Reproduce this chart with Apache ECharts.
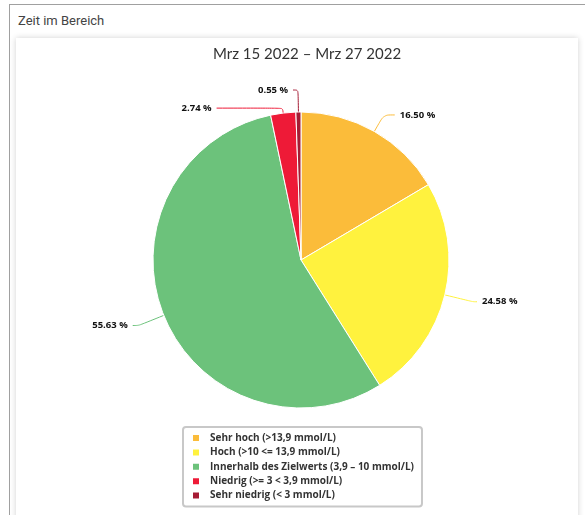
<!DOCTYPE html>
<html>
<head>
<meta charset="utf-8">
<script src="https://cdn.jsdelivr.net/npm/echarts@6/dist/echarts.min.js"></script>
<style>
  html, body { margin:0; padding:0; width:585px; height:515px; overflow:hidden; background:#fff; }
  #outer { position:absolute; left:9px; top:4px; width:600px; height:600px; border-left:1px solid #a0a0a0; border-top:1px solid #a0a0a0; background:#fff; }
  #hdr { position:absolute; left:18px; top:13px; font-family:Roboto, sans-serif; font-size:13px; color:#444; }
  #card { position:absolute; left:16px; top:38px; width:562px; height:600px; background:#fff; box-shadow:0 0 6px rgba(0,0,0,0.18); }
  #chart { position:absolute; left:0; top:0; width:585px; height:515px; }
</style>
</head>
<body>
<div id="outer"></div>
<div id="hdr">Zeit im Bereich</div>
<div id="card"></div>
<div id="chart"></div>
<script>
const titleText = 'Mrz 15 2022 – Mrz 27 2022';
const categories = ['Sehr hoch (>13,9 mmol/L)', 'Hoch (>10 <= 13,9 mmol/L)', 'Innerhalb des Zielwerts (3,9 – 10 mmol/L)', 'Niedrig (>= 3 < 3,9 mmol/L)', 'Sehr niedrig (< 3 mmol/L)'];
const values = [16.50, 24.58, 55.63, 2.74, 0.55];
const colors = ['#FBBC3A', '#FFF23E', '#6CC27B', '#EE1A37', '#A61C34'];
// label line lengths per slice [length, length2]
const lineLens = [[19, 11], [29, 4], [27, 6], [5, 66], [22, 5]];

const chart = echarts.init(document.getElementById('chart'), null, {renderer:'canvas'});
chart.setOption({
  backgroundColor: 'transparent',
  animation: false,
  title: {
    text: titleText, left: 302, top: 42, textAlign: 'center',
    textStyle: { fontFamily: 'Lato, sans-serif', fontWeight: 'normal', fontSize: 15, color: '#333' }
  },
  legend: {
    orient: 'vertical', left: 183, top: 427,
    data: categories,
    icon: 'rect', itemWidth: 8, itemHeight: 8, itemGap: 4.4,
    padding: [6, 8, 6, 8],
    borderColor: '#c8c8c8', borderWidth: 2, borderRadius: 3,
    textStyle: { fontFamily: '"Open Sans", sans-serif', fontWeight: 'bold', fontSize: 10, color: '#333', padding: [0, 0, 0, 5] }
  },
  series: [{
    type: 'pie',
    center: [301, 260], radius: 148,
    startAngle: 90, clockwise: true,
    avoidLabelOverlap: false,
    data: categories.map((c, i) => ({
      name: c, value: values[i], itemStyle: { color: colors[i] },
      labelLine: { length: lineLens[i][0], length2: lineLens[i][1] }
    })),
    itemStyle: { borderColor: '#fff', borderWidth: 1 },
    label: {
      show: true, position: 'outside',
      formatter: p => p.value.toFixed(2) + ' %',
      fontFamily: '"Open Sans", sans-serif', fontWeight: 'bold', fontSize: 9.5, color: '#111'
    },
    labelLine: { show: true, smooth: 0.3, lineStyle: { width: 1 } }
  }]
});
</script>
</body>
</html>
